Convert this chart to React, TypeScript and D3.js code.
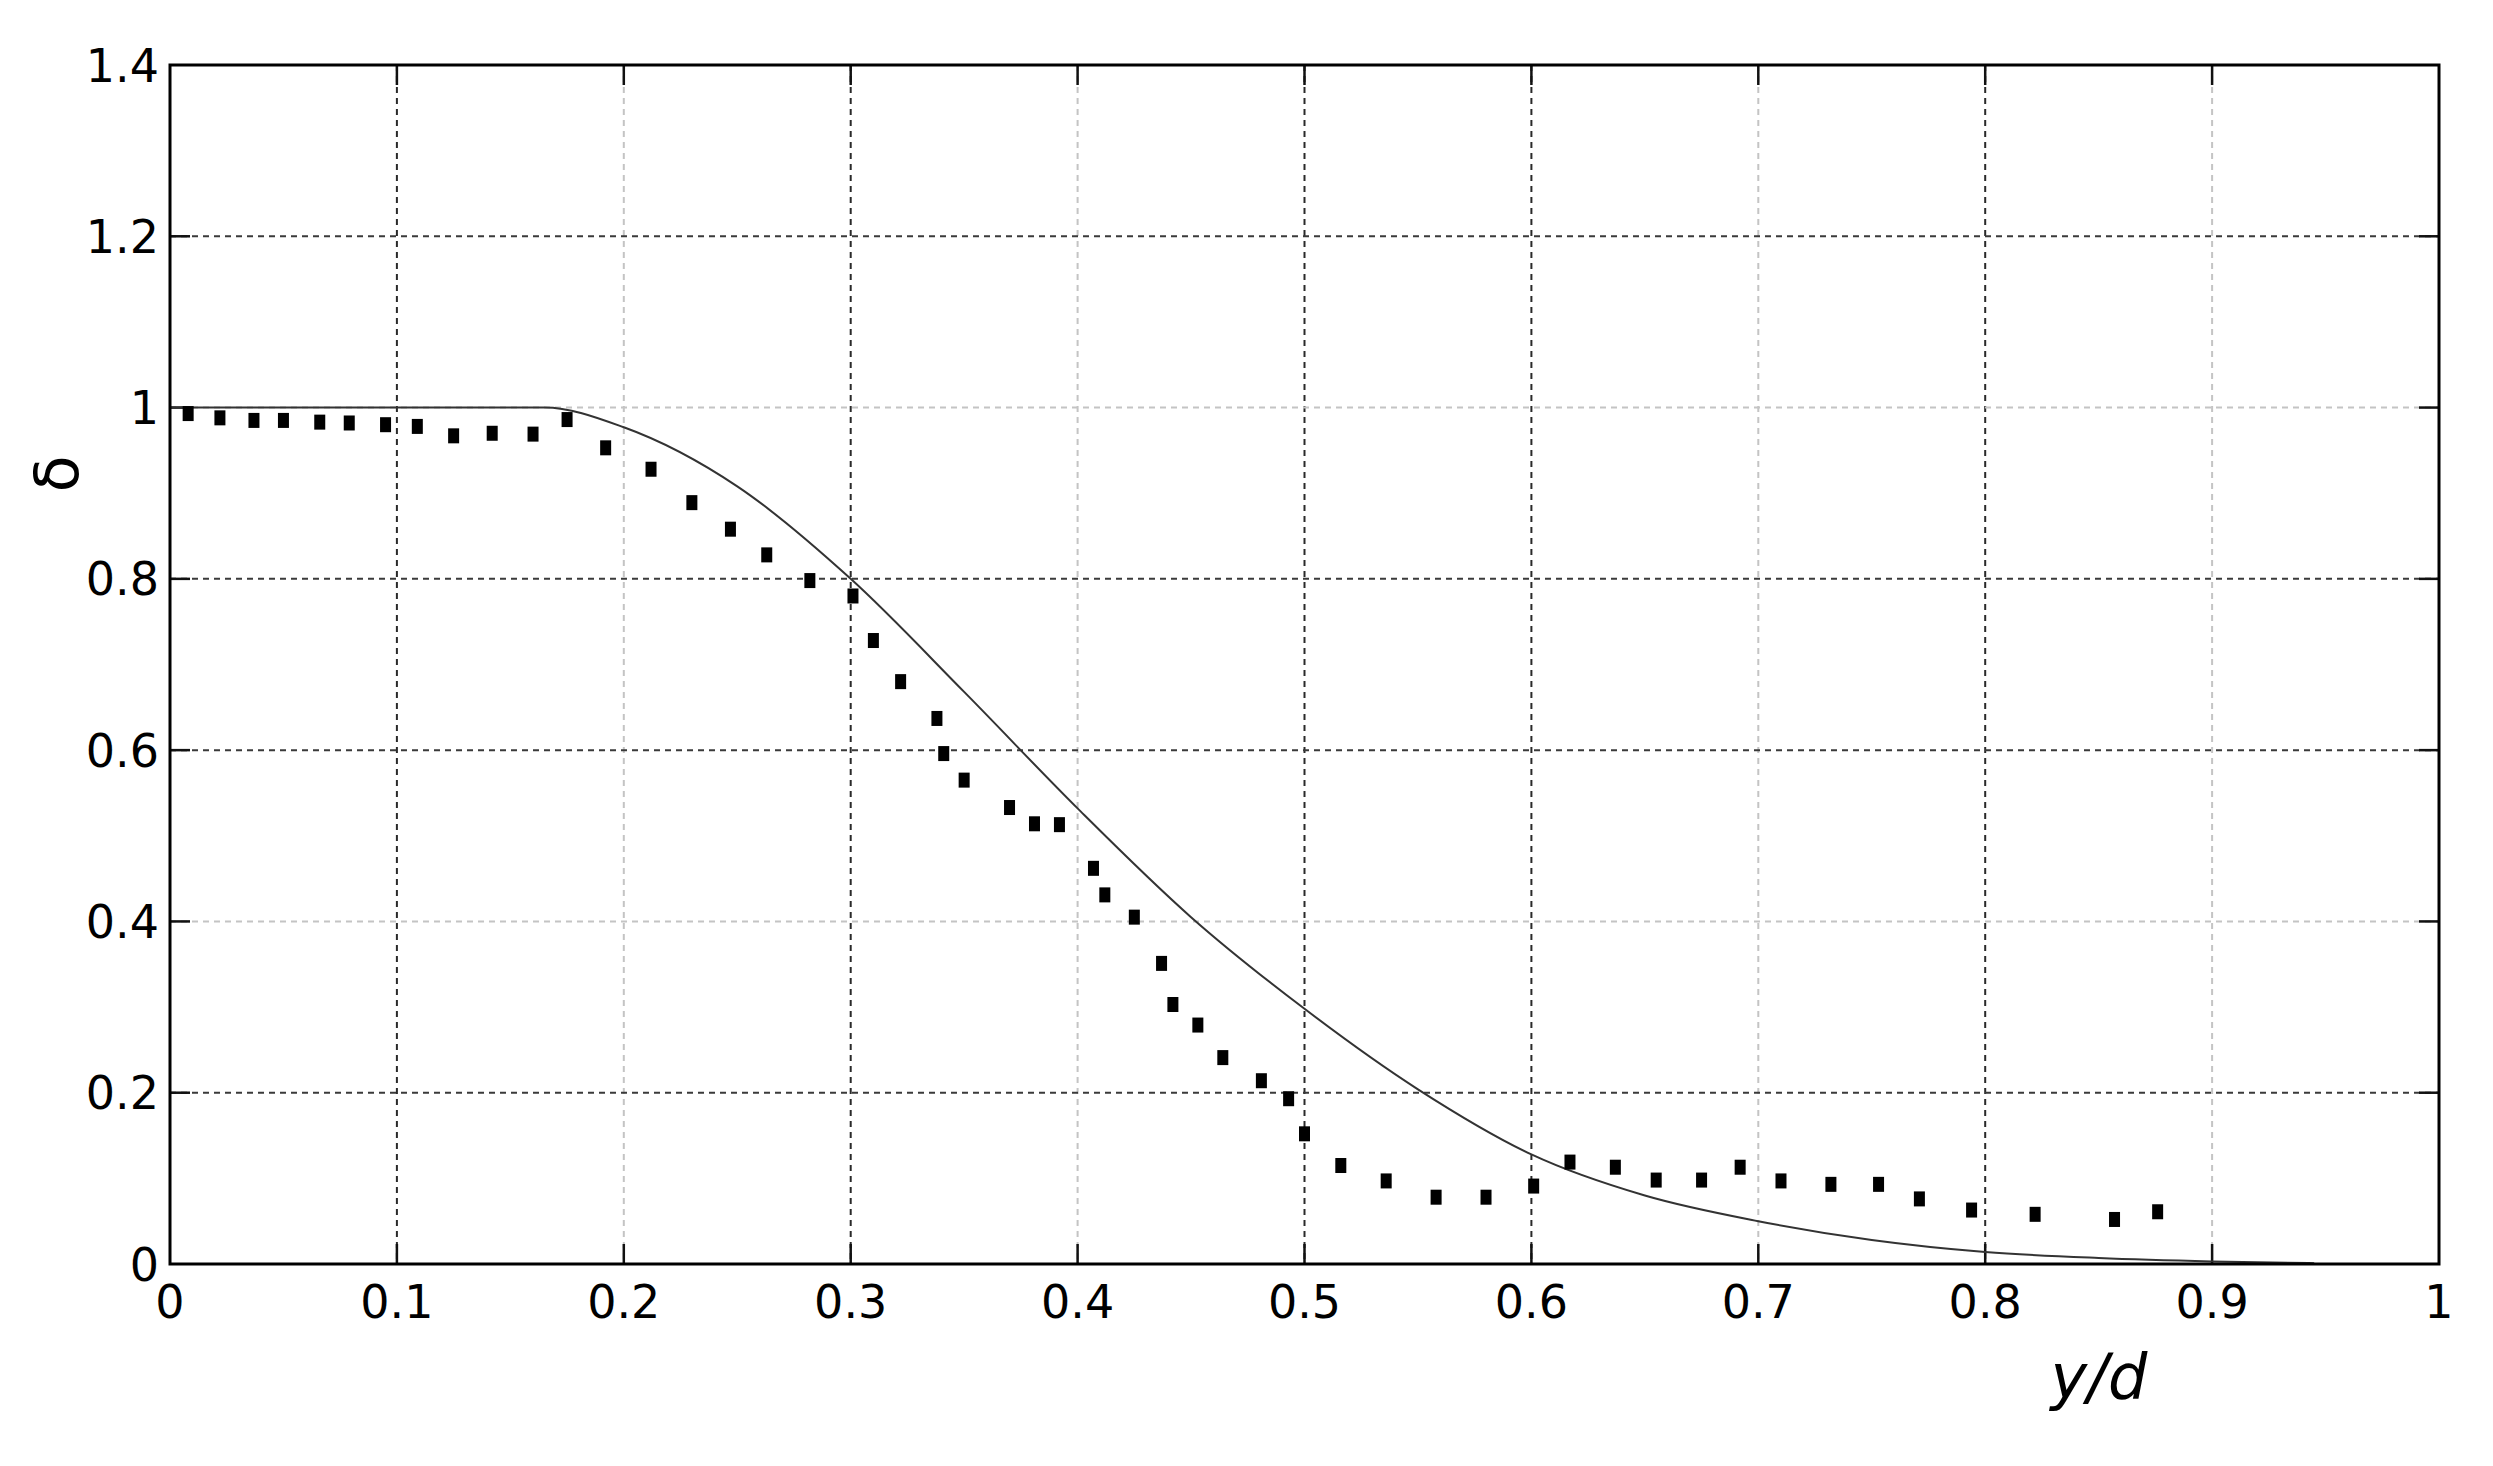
import React, { useEffect, useRef } from 'react';
import * as d3 from 'd3';

// measured points (y/d, delta)
const measuredX = [
  0.008, 0.022, 0.037, 0.05, 0.066, 0.079, 0.095, 0.109, 0.125, 0.142, 0.16, 0.175,
  0.192, 0.212, 0.23, 0.247, 0.263, 0.282, 0.301, 0.31, 0.322, 0.338, 0.341, 0.35,
  0.37, 0.381, 0.392, 0.407, 0.412, 0.425, 0.437, 0.442, 0.453, 0.464, 0.481, 0.493,
  0.5, 0.516, 0.536, 0.558, 0.58, 0.601, 0.617, 0.637, 0.655, 0.675, 0.692, 0.71,
  0.732, 0.753, 0.771, 0.794, 0.822, 0.857, 0.876,
];
const measuredY = [
  0.993, 0.988, 0.985, 0.985, 0.983, 0.982, 0.98, 0.978, 0.967, 0.97, 0.969, 0.986,
  0.953, 0.928, 0.889, 0.858, 0.828, 0.798, 0.78, 0.728, 0.68, 0.637, 0.596, 0.565,
  0.533, 0.514, 0.513, 0.462, 0.431, 0.405, 0.351, 0.303, 0.279, 0.241, 0.214, 0.193,
  0.152, 0.115, 0.097, 0.078, 0.078, 0.091, 0.119, 0.113, 0.098, 0.098, 0.113, 0.097,
  0.093, 0.093, 0.076, 0.063, 0.058, 0.052, 0.061,
];

// model curve
const modelX = [0, 0.165, 0.2, 0.25, 0.3, 0.35, 0.4, 0.45, 0.5, 0.55, 0.6, 0.65, 0.7, 0.75, 0.8, 0.85, 0.9, 0.945];
const modelY = [1, 1, 0.977, 0.908, 0.8, 0.668, 0.532, 0.405, 0.298, 0.204, 0.128, 0.08, 0.05, 0.028, 0.014, 0.007, 0.003, 0.001];

const xTicks = [0, 0.1, 0.2, 0.3, 0.4, 0.5, 0.6, 0.7, 0.8, 0.9, 1];
const yTicks = [0, 0.2, 0.4, 0.6, 0.8, 1, 1.2, 1.4];
const xTickLabels = ['0', '0.1', '0.2', '0.3', '0.4', '0.5', '0.6', '0.7', '0.8', '0.9', '1'];
const yTickLabels = ['0', '0.2', '0.4', '0.6', '0.8', '1', '1.2', '1.4'];

// grid lines that come out pale in the original
const paleX = [0.2, 0.4, 0.7, 0.9];
const paleY = [0.4, 1];

const App = () => {
  const ref = useRef<SVGSVGElement | null>(null);

  useEffect(() => {
    if (!ref.current) return;
    const W = 2493;
    const H = 1466;
    const margin = { top: 65, right: 54, bottom: 202, left: 170 };
    const width = W - margin.left - margin.right;
    const height = H - margin.top - margin.bottom;
    const font = '"DejaVu Sans", Verdana, sans-serif';

    const root = d3.select(ref.current);
    root.selectAll('*').remove();
    root.attr('width', W).attr('height', H);
    root.append('rect').attr('width', W).attr('height', H).attr('fill', 'white');

    const svg = root.append('g').attr('transform', `translate(${margin.left},${margin.top})`);

    const x = d3.scaleLinear().domain([0, 1]).range([0, width]);
    const y = d3.scaleLinear().domain([0, 1.4]).range([height, 0]);

    // grid
    svg.selectAll('.vgrid')
      .data(xTicks.slice(1, -1))
      .enter().append('line')
      .attr('x1', d => x(d)).attr('x2', d => x(d))
      .attr('y1', 0).attr('y2', height)
      .attr('stroke', d => (paleX.includes(d) ? '#c4c4c4' : '#2a2a2a'))
      .attr('stroke-width', 2)
      .attr('stroke-dasharray', '6,5');

    svg.selectAll('.hgrid')
      .data(yTicks.slice(1, -1))
      .enter().append('line')
      .attr('x1', 0).attr('x2', width)
      .attr('y1', d => y(d)).attr('y2', d => y(d))
      .attr('stroke', d => (paleY.includes(d) ? '#c4c4c4' : '#3a3a3a'))
      .attr('stroke-width', 2)
      .attr('stroke-dasharray', '6,5');

    // inner ticks on all four sides
    const tl = 20;
    const ticks = svg.append('g').attr('stroke', '#111').attr('stroke-width', 2.5);
    xTicks.slice(1, -1).forEach(d => {
      ticks.append('line').attr('x1', x(d)).attr('x2', x(d)).attr('y1', height).attr('y2', height - tl);
      ticks.append('line').attr('x1', x(d)).attr('x2', x(d)).attr('y1', 0).attr('y2', tl);
    });
    yTicks.slice(1, -1).forEach(d => {
      ticks.append('line').attr('x1', 0).attr('x2', tl).attr('y1', y(d)).attr('y2', y(d));
      ticks.append('line').attr('x1', width).attr('x2', width - tl).attr('y1', y(d)).attr('y2', y(d));
    });

    // model curve
    const modelData = modelX.map((v, i) => [v, modelY[i]] as [number, number]);
    const line = d3.line<[number, number]>()
      .x(d => x(d[0]))
      .y(d => y(d[1]))
      .curve(d3.curveMonotoneX);
    svg.append('path')
      .datum(modelData)
      .attr('d', line)
      .attr('fill', 'none')
      .attr('stroke', '#333')
      .attr('stroke-width', 2);

    // measured points
    const pts = measuredX.map((v, i) => [v, measuredY[i]] as [number, number]);
    svg.selectAll('.pt')
      .data(pts)
      .enter().append('rect')
      .attr('x', d => x(d[0]) - 5.5)
      .attr('y', d => y(d[1]) - 7.5)
      .attr('width', 11)
      .attr('height', 15)
      .attr('fill', '#000');

    // frame
    svg.append('rect')
      .attr('x', 0).attr('y', 0)
      .attr('width', width).attr('height', height)
      .attr('fill', 'none')
      .attr('stroke', '#000')
      .attr('stroke-width', 3);

    // tick labels
    svg.selectAll('.xl')
      .data(xTicks)
      .enter().append('text')
      .attr('x', d => x(d))
      .attr('y', height + 54)
      .attr('text-anchor', 'middle')
      .attr('font-family', font)
      .attr('font-size', 46)
      .attr('fill', '#000')
      .text((d, i) => xTickLabels[i]);

    svg.selectAll('.yl')
      .data(yTicks)
      .enter().append('text')
      .attr('x', -11)
      .attr('y', d => y(d))
      .attr('dy', '0.36em')
      .attr('text-anchor', 'end')
      .attr('font-family', font)
      .attr('font-size', 46)
      .attr('fill', '#000')
      .text((d, i) => yTickLabels[i]);

    // axis titles
    root.append('text')
      .attr('x', 2099)
      .attr('y', 1398)
      .attr('text-anchor', 'middle')
      .attr('font-family', font)
      .attr('font-style', 'italic')
      .attr('font-size', 62)
      .attr('fill', '#000')
      .text('y/d');

    root.append('text')
      .attr('transform', 'translate(78,474) rotate(-90)')
      .attr('text-anchor', 'middle')
      .attr('font-family', font)
      .attr('font-size', 60)
      .attr('fill', '#000')
      .text('δ');
  }, []);

  return (
    <svg ref={ref} style={{ position: 'absolute', left: 0, top: 0, display: 'block' }} />
  );
};

export default App;
